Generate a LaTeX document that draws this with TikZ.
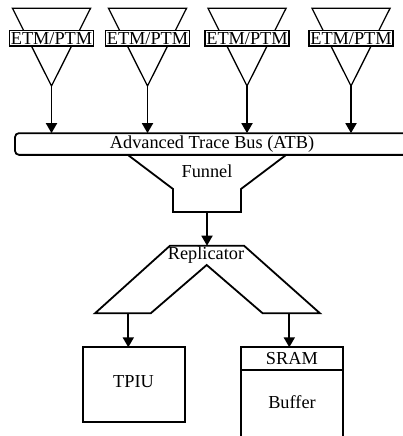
\documentclass[tikz,border=0pt]{standalone}
\usepackage{fontspec}
\setmainfont{Liberation Serif}
\usetikzlibrary{arrows.meta}
\tikzset{
  lbl/.style={font=\fontsize{18.3}{21}\selectfont, inner sep=0pt},
  thick line/.style={line width=1.8pt},
  thin line/.style={line width=1.3pt},
  flow/.style={thick line, -{Triangle[length=10pt,width=11pt]}},
  etm/.style={lbl, draw, fill=white, thin line, minimum width=84pt, minimum height=15.5pt, inner xsep=0.5pt},
  unitbox/.style={lbl, draw, thick line, outer sep=0pt},
}
\begin{document}
\begin{tikzpicture}[x=1pt, y=-1pt]
\useasboundingbox (0,0) rectangle (403,436);
\clip (0,0) rectangle (403,436);

% trace sources: funnels with ETM/PTM labels
\foreach \cx [count=\i] in {51.5,147.5,247,351} {
  \draw[thin line, line join=miter] (\cx-39,8.3) -- (\cx+39,8.3) -- (\cx,86) -- cycle;
  \coordinate (apex\i) at (\cx,86);
  \node[etm] (etm\i) at (\cx,38.3) {ETM/PTM};
}

% trace bus
\node[unitbox, rounded corners=4pt, minimum width=394pt, minimum height=21.7pt, anchor=west] (atb) at (15,144) {};
\node[lbl] (atbtxt) at (212,144) {Advanced Trace Bus (ATB)};

\foreach \i in {1,...,4} {
  \draw[flow] (apex\i) -- (apex\i |- atb.north);
}

% funnel
\coordinate (fa) at (128,155);
\coordinate (fb) at (286,155);
\coordinate (fout) at (207,212);
\draw[thick line] (fa) -- (173,189) -- (173,212) -- (241,212) -- (241,189) -- (fb);
\node[lbl] (funnel) at (207,171) {Funnel};

% replicator
\coordinate (rin) at (207,245.7);
\coordinate (rl) at (128.3,313.3);
\coordinate (rr) at (289.3,313.3);
\draw[thick line] (170,245.7) -- (95,313.3) -- (150.7,313.3) -- (206.7,265)
  -- (262.7,313.3) -- (320,313.3) -- (244,245.7) -- cycle;
\node[lbl] (repl) at (206,255) {Replicator};
\draw[flow] (fout) -- (rin);

% sinks
\node[unitbox, minimum width=102.3pt, minimum height=74.4pt, anchor=north west] (tpiu) at (82.7,347.3) {};
\node[lbl] (tpiutxt) at (133.5,382) {TPIU};
\node[unitbox, minimum width=101.7pt, minimum height=22.7pt, anchor=north west] (sram) at (241,347.3) {};
\node[lbl] (sramtxt) at (sram.center) {SRAM};
\draw[thick line] (sram.south west) -- ++(0,80);
\draw[thick line] (sram.south east) -- ++(0,80);
\node[lbl] (buffer) at (292,402) {Buffer};

\draw[flow] (rl) -- (rl |- tpiu.north);
\draw[flow] (rr) -- (rr |- sram.north);
\end{tikzpicture}
\end{document}
